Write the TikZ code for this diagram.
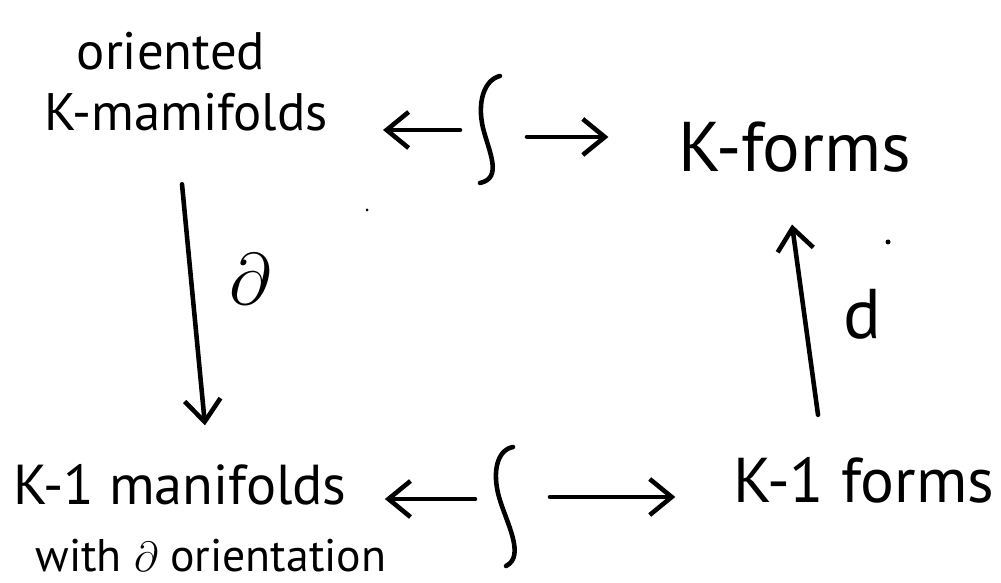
\documentclass[tikz,border=0pt]{standalone}
\usepackage{fontspec}
\setmainfont{PT Sans}
\usetikzlibrary{arrows.meta,calc}

\begin{document}
\begin{tikzpicture}[x=0.01cm,y=-0.01cm,line width=1.3pt,line cap=round,line join=round,
 word/.style={inner sep=0pt,font=\fontsize{#1}{#1}\selectfont},
 arr/.style={-{Straight Barb[length=2.2mm,width=3.6mm]}}]
\useasboundingbox (0,0) rectangle (1001,583);
% the four corners
\node[word=15] (ori) at (171,51) {oriented};
\node[word=15] (kman) at (186,112) {K-mamifolds};
\node[word=20] (kform) at (795,147) {K-forms};
\node[word=16] (lman) at (180,485) {K-1 manifolds};
\node[word=13] (lwith) at (211,556) {with $\partial$ orientation};
\node[word=18] (lform) at (864,480) {K-1 forms};
% the two integral signs
\draw (500,76) .. controls (484,80) and (477,102) .. (483,128) .. controls (489,152) and (503,178) .. (480,183);
\draw (513,447) .. controls (497,450) and (492,472) .. (499,497) .. controls (506,522) and (526,556) .. (506,566);
\coordinate (iTl) at (460,130);
\coordinate (iTr) at (527,137);
\coordinate (iBl) at (475,499);
\coordinate (iBr) at (550,497);
% integration pairs
\draw[arr,shorten >=0.53cm] (iTl) -- (kman.east |- iTl);
\draw[arr,shorten >=0.68cm] (iTr) -- (kform.west |- iTr);
\draw[arr,shorten >=0.36cm] (iBl) -- (lman.east |- iBl);
\draw[arr,shorten >=0.56cm] (iBr) -- (lform.west |- iBr);
% boundary and exterior derivative
\draw[arr] ($(kman.south)+(-4,51)$) -- ($(lman.north)+(25,-37)$);
\node[word=20] (bd) at (250,279) {$\partial$};
\draw[arr] ($(lform.north)+(-46,-40)$) -- ($(kform.south)+(-3,50)$);
\node[word=20] (dd) at (862,314) {d};
% specks
\fill (888,242) circle[radius=0.025cm];
\fill (367,210) circle[radius=0.015cm];
\end{tikzpicture}
\end{document}
